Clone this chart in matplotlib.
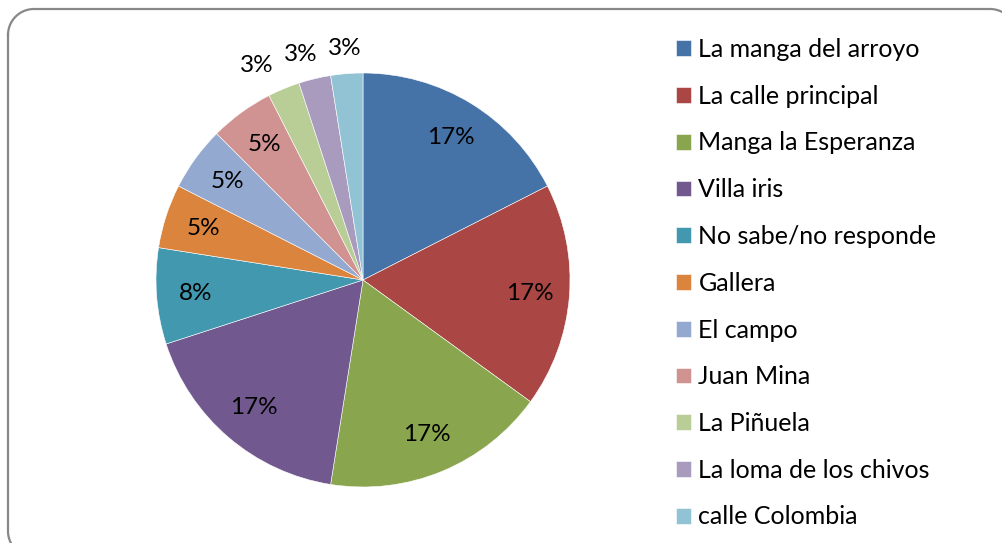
import numpy as np
import matplotlib
matplotlib.use("Agg")
import matplotlib.pyplot as plt

plt.rcParams["font.family"] = ["Lato", "DejaVu Sans"]

categories = ["La manga del arroyo", "La calle principal", "Manga la Esperanza",
              "Villa iris", "No sabe/no responde", "Gallera", "El campo",
              "Juan Mina", "La Piñuela", "La loma de los chivos", "calle Colombia"]
counts = [7, 7, 7, 7, 3, 2, 2, 2, 1, 1, 1]
pct_labels = ["17%", "17%", "17%", "17%", "8%", "5%", "5%", "5%", "3%", "3%", "3%"]
colors = ["#4572A7", "#AA4643", "#89A54E", "#71588F", "#4198AF", "#DB843D",
          "#93A9CF", "#D19392", "#B9CD96", "#A99BBD", "#92C3D4"]

W, H = 1002, 543
fig = plt.figure(figsize=(W / 100, H / 100), dpi=100)

# background axes in pixel units for the rounded chart border
bg = fig.add_axes([0, 0, 1, 1])
bg.set_xlim(0, W)
bg.set_ylim(H, 0)
bg.axis("off")
x0, y0, x1, y1, rc = 8, 9, 1016, 557, 26
t = np.linspace(0, np.pi / 2, 30)
xs = np.concatenate([x0 + rc - rc * np.cos(t), x1 - rc + rc * np.sin(t),
                     x1 - rc + rc * np.cos(t), x0 + rc - rc * np.sin(t), [x0]])
ys = np.concatenate([y0 + rc - rc * np.sin(t), y0 + rc - rc * np.cos(t),
                     y1 - rc + rc * np.sin(t), y1 - rc + rc * np.cos(t), [y0 + rc]])
bg.plot(xs, ys, color="#888888", lw=1.6)

# pie: centre (363, 280) px, radius 207 px
cx, cy, R, half = 363, 280, 207, 250
ax = fig.add_axes([(cx - half) / W, (H - cy - half) / H, 2 * half / W, 2 * half / H])
wedges, _ = ax.pie(counts, colors=colors, startangle=90, counterclock=False,
                   radius=1, wedgeprops=dict(edgecolor="white", linewidth=0.4))
ax.set_xlim(-half / R, half / R)
ax.set_ylim(-half / R, half / R)
ax.set_aspect("equal")
ax.axis("off")

total = sum(counts)
min_gap = 44 / R   # outside labels of thin slices are pushed apart like Excel does
prev_x = None
positions = []
for w, n in zip(wedges, counts):
    mid = np.deg2rad((w.theta1 + w.theta2) / 2)
    r = 1.12 if n / total < 0.04 else 0.81
    positions.append([r * np.cos(mid), r * np.sin(mid), n / total < 0.04])
for p in reversed(positions):
    if p[2]:
        if prev_x is not None:
            p[0] = min(p[0], prev_x - min_gap)
        prev_x = p[0]
for (x, y, _), lab in zip(positions, pct_labels):
    ax.text(x, y, lab, ha="center", va="center", fontsize=17.5, color="black")

fig.legend(wedges, categories, loc="upper left",
           bbox_to_anchor=(666 / W, (H - 28) / H), frameon=False, fontsize=18,
           handlelength=0.6, handleheight=0.6, handletextpad=0.3,
           labelspacing=0.95, borderaxespad=0)

plt.savefig("out.png", dpi=100)
